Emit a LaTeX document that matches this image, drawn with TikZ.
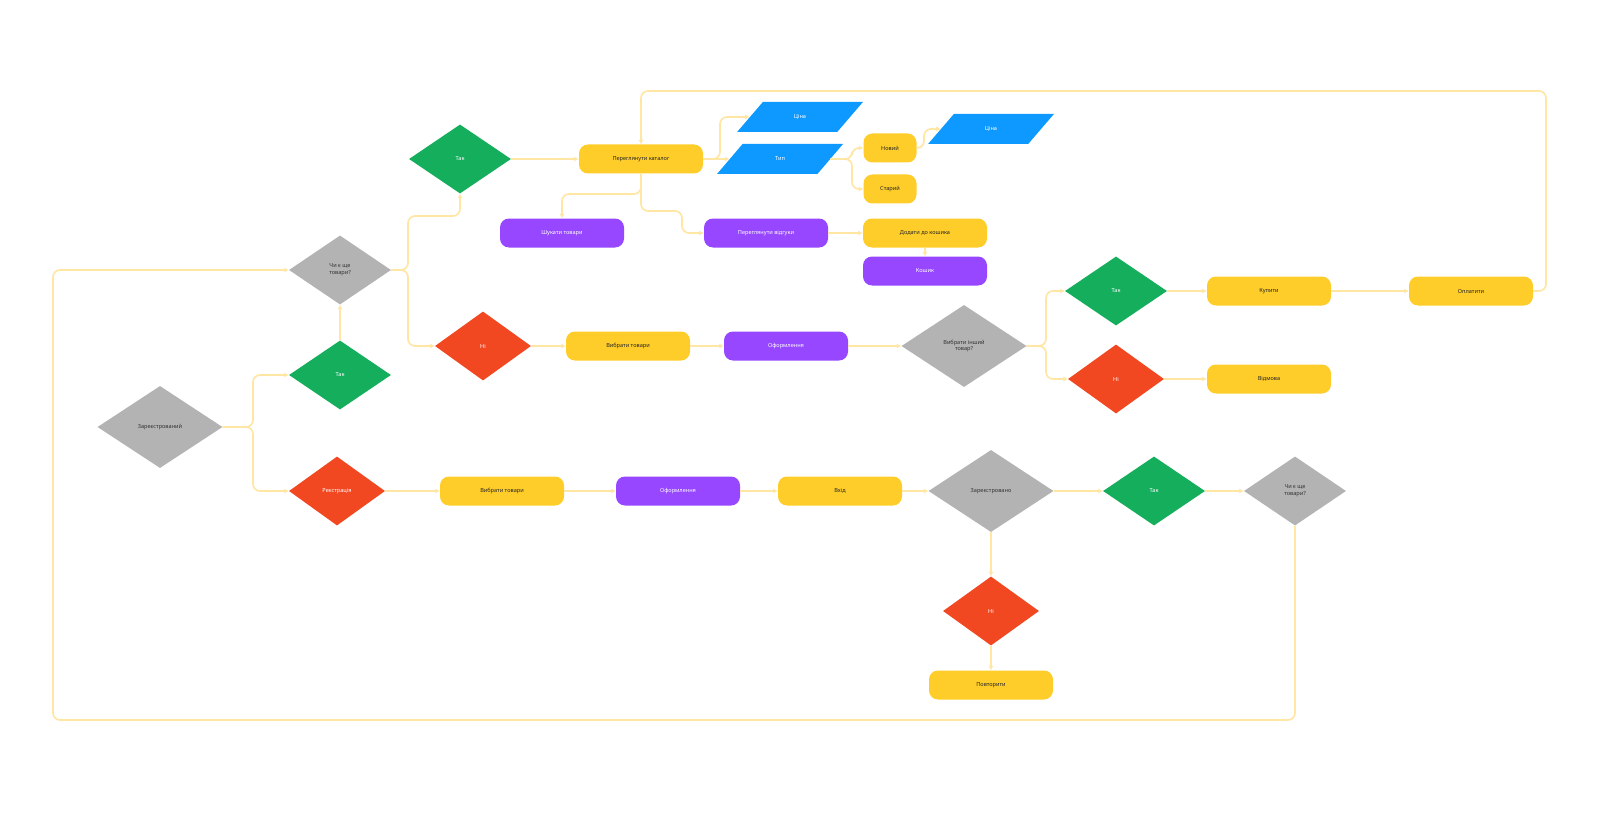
\documentclass[tikz,border=0pt]{standalone}
\usepackage{fontspec}
\setmainfont{Noto Sans}
\usetikzlibrary{shapes.geometric,arrows.meta}
\definecolor{cgreen}{HTML}{14AE5C}
\definecolor{cred}{HTML}{F24822}
\definecolor{cgray}{HTML}{B3B3B3}
\definecolor{cyel}{HTML}{FFCD29}
\definecolor{cpur}{HTML}{9747FF}
\definecolor{cblue}{HTML}{0D99FF}
\definecolor{cline}{HTML}{FFE6A3}
\tikzset{
  lbl/.style={font=\fontsize{5.6}{6.8}\selectfont},
  dia/.style={diamond, inner sep=0pt, align=center, lbl},
  yesd/.style={dia, fill=cgreen, text=white, minimum width=102pt, minimum height=69pt},
  nod/.style={dia, fill=cred, text=white, minimum width=96pt, minimum height=69pt},
  qbig/.style={dia, fill=cgray, text=black!80, minimum width=125pt, minimum height=82pt},
  qsmall/.style={dia, fill=cgray, text=black!80, minimum width=102pt, minimum height=69pt},
  box/.style={rectangle, rounded corners=9pt, minimum width=124pt, minimum height=29pt, inner sep=0pt, lbl},
  ybox/.style={box, fill=cyel, text=black!85},
  pbox/.style={box, fill=cpur, text=white},
  sbox/.style={ybox, minimum width=53pt},
  para/.style={trapezium, trapezium left angle=50, trapezium right angle=130, trapezium stretches=true, minimum width=126pt, minimum height=30pt, fill=cblue, text=white, inner sep=0pt, lbl},
  conn/.style={draw=cline, line width=1.6pt, rounded corners=7pt, -{Latex[length=4.5pt,width=5pt]}}
}
\begin{document}
\begin{tikzpicture}[x=1pt,y=-1pt]
\useasboundingbox[fill=white] (0,0) rectangle (1600,813);
% nodes
\node[qbig] (L1) at (160,427) {Зареєстрований};
\node[yesd] (G1) at (340,375) {Так};
\node[nod] (R1) at (337,491) {Реєстрація};
\node[qsmall] (G2) at (340,270) {Чи є ще\\товари?};
\node[yesd] (G3) at (460,159) {Так};
\node[nod] (R2) at (483,346) {Ні};
\node[ybox] (Y1) at (641,159) {Переглянути каталог};
\node[para] (P1) at (800,117) {Ціна};
\node[para] (P2) at (780,159) {Тип};
\node[para] (P3) at (991,129) {Ціна};
\node[sbox] (Y2) at (890,148) {Новий};
\node[sbox] (Y3) at (890,189) {Старий};
\node[pbox] (U1) at (562,233) {Шукати товари};
\node[pbox] (U2) at (766,233) {Переглянути відгуки};
\node[ybox] (Y4) at (925,233) {Додати до кошика};
\node[pbox] (U3) at (925,271) {Кошик};
\node[ybox] (Y5) at (628,346) {Вибрати товари};
\node[pbox] (U4) at (786,346) {Оформлення};
\node[qbig] (G4) at (964,346) {Вибрати інший\\товар?};
\node[yesd] (G5) at (1116,291) {Так};
\node[nod] (R3) at (1116,379) {Ні};
\node[ybox] (Y6) at (1269,291) {Купити};
\node[ybox] (Y7) at (1471,291) {Оплатити};
\node[ybox] (Y8) at (1269,379) {Відмова};
\node[ybox] (Y9) at (502,491) {Вибрати товари};
\node[pbox] (U5) at (678,491) {Оформлення};
\node[ybox] (Y10) at (840,491) {Вхід};
\node[qbig] (G6) at (991,491) {Зареєстровано};
\node[yesd] (G7) at (1154,491) {Так};
\node[qsmall] (G8) at (1295,491) {Чи є ще\\товари?};
\node[nod] (R4) at (991,611) {Ні};
\node[ybox] (Y11) at (991,685) {Повторити};
% connectors
\draw[conn] (L1.east) -- (253,427) |- (G1.west);
\draw[conn] (L1.east) -- (253,427) |- (R1.west);
\draw[conn] (G1.north) -- (G2.south);
\draw[conn] (G2.east) -- (408,270) |- (460,216) -- (G3.south);
\draw[conn] (G2.east) -- (408,270) |- (R2.west);
\draw[conn] (G3.east) -- (Y1.west);
\draw[conn] (Y1.east) -- (720,159) |- (P1.west);
\draw[conn] (Y1.east) -- (P2.west);
\draw[conn] (P2.east) -- (852,159) |- (Y2.west);
\draw[conn] (P2.east) -- (852,159) |- (Y3.west);
\draw[conn] (Y2.east) -- (924,148) |- (P3.west);
\draw[conn] (Y1.south) |- (562,194) -- (U1.north);
\draw[conn] (Y1.south) |- (682,211) |- (U2.west);
\draw[conn] (U2.east) -- (Y4.west);
\draw[conn] (Y4.south) -- (U3.north);
\draw[conn] (R2.east) -- (Y5.west);
\draw[conn] (Y5.east) -- (U4.west);
\draw[conn] (U4.east) -- (G4.west);
\draw[conn] (G4.east) -- (1046,346) |- (G5.west);
\draw[conn] (G4.east) -- (1046,346) |- (R3.west);
\draw[conn] (G5.east) -- (Y6.west);
\draw[conn] (Y6.east) -- (Y7.west);
\draw[conn] (R3.east) -- (Y8.west);
\draw[conn] (Y7.east) -| (1546,91) -| (Y1.north);
\draw[conn] (R1.east) -- (Y9.west);
\draw[conn] (Y9.east) -- (U5.west);
\draw[conn] (U5.east) -- (Y10.west);
\draw[conn] (Y10.east) -- (G6.west);
\draw[conn] (G6.east) -- (G7.west);
\draw[conn] (G7.east) -- (G8.west);
\draw[conn] (G6.south) -- (R4.north);
\draw[conn] (R4.south) -- (Y11.north);
\draw[conn] (G8.south) |- (53,720) |- (G2.west);
\end{tikzpicture}
\end{document}
